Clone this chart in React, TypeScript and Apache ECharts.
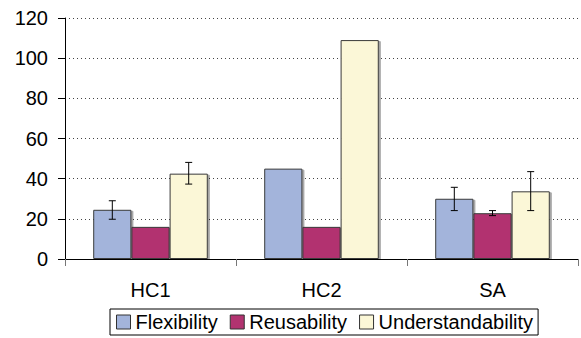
import React, { useEffect, useRef } from "react";
import * as echarts from "echarts";

const categories = ["HC1", "HC2", "SA"];
const seriesNames = ["Flexibility", "Reusability", "Understandability"];
const flexibility = [24.5, 45, 30];
const reusability = [16, 16, 22.8];
const understandability = [42.5, 109, 33.7];
// error bars: [categoryIndex, seriesIndex, low, high]
const errorBars = [
  [0, 0, 19.8, 29],
  [0, 2, 37.3, 48.1],
  [2, 0, 24.1, 35.7],
  [2, 1, 21.6, 24.1],
  [2, 2, 24.1, 43.5],
];
const yTicks = { min: 0, max: 120, interval: 20 };

const colors = ["#A3B4DB", "#B23370", "#FBF7D7"];
const CAT_GAP = 0.33;

export default function App() {
  const ref = useRef<HTMLDivElement>(null);
  useEffect(() => {
    if (!ref.current) return;
    const chart = echarts.init(ref.current, undefined, { renderer: "svg" });
    const font = "Liberation Sans, Arial, sans-serif";
    const values = [flexibility, reusability, understandability];
    const barSeries = seriesNames.map((name, i) => ({
      name,
      type: "bar",
      data: values[i],
      barGap: "0%",
      barCategoryGap: "33%",
      itemStyle: {
        color: colors[i],
        borderColor: "#3a3a3a",
        borderWidth: 1,
        shadowColor: "rgba(0,0,0,0.35)",
        shadowOffsetX: 2,
        shadowOffsetY: 1,
        shadowBlur: 0,
      },
      z: 2,
    }));
    const errSeries = {
      type: "custom",
      z: 5,
      silent: true,
      data: errorBars,
      encode: { x: 0, y: 3 },
      renderItem: (params: any, api: any) => {
        const cat = api.value(0);
        const s = api.value(1);
        const lo = api.value(2);
        const hi = api.value(3);
        const band = api.size([1, 0])[0];
        const bw = (band * (1 - CAT_GAP)) / 3;
        const cx = api.coord([cat, 0])[0] + (s - 1) * bw;
        const yl = api.coord([cat, lo])[1];
        const yh = api.coord([cat, hi])[1];
        const hw = 3.5;
        const style = { stroke: "#000", lineWidth: 1 };
        return {
          type: "group",
          children: [
            { type: "line", shape: { x1: cx, y1: yl, x2: cx, y2: yh }, style },
            { type: "line", shape: { x1: cx - hw, y1: yl, x2: cx + hw, y2: yl }, style },
            { type: "line", shape: { x1: cx - hw, y1: yh, x2: cx + hw, y2: yh }, style },
          ],
        };
      },
    };
    chart.setOption({
      animation: false,
      textStyle: { fontFamily: font },
      grid: { left: 65, top: 18, right: 3, bottom: 79, containLabel: false },
      legend: {
        data: seriesNames,
        left: 110,
        top: 309,
        padding: [3, 5, 3, 6],
        itemGap: 12,
        itemWidth: 14,
        itemHeight: 14,
        borderColor: "#000",
        borderWidth: 1,
        borderRadius: 0,
        icon: "rect",
        itemStyle: { borderColor: "#333", borderWidth: 1, shadowBlur: 0, shadowOffsetX: 0, shadowOffsetY: 0 },
        textStyle: { fontSize: 20, color: "#000", fontFamily: font, padding: [0, 0, 0, 0] },
      },
      xAxis: {
        type: "category",
        data: categories,
        axisLine: { lineStyle: { color: "#000", width: 1 } },
        axisTick: { show: true, length: 7, lineStyle: { color: "#777" } },
        axisLabel: { fontSize: 20, color: "#000", margin: 21, fontFamily: font },
      },
      yAxis: {
        type: "value",
        min: yTicks.min,
        max: yTicks.max,
        interval: yTicks.interval,
        axisLine: { show: true, lineStyle: { color: "#000", width: 1 } },
        axisTick: { show: true, length: 7, lineStyle: { color: "#000" } },
        axisLabel: { fontSize: 20, color: "#000", margin: 17, fontFamily: font },
        splitLine: { show: true, lineStyle: { type: [1, 3], color: "#444", width: 1 } },
      },
      series: [...barSeries, errSeries],
    });
    return () => chart.dispose();
  }, []);
  return <div ref={ref} style={{ width: 581, height: 338, position: "absolute", left: 0, top: 0 }} />;
}
